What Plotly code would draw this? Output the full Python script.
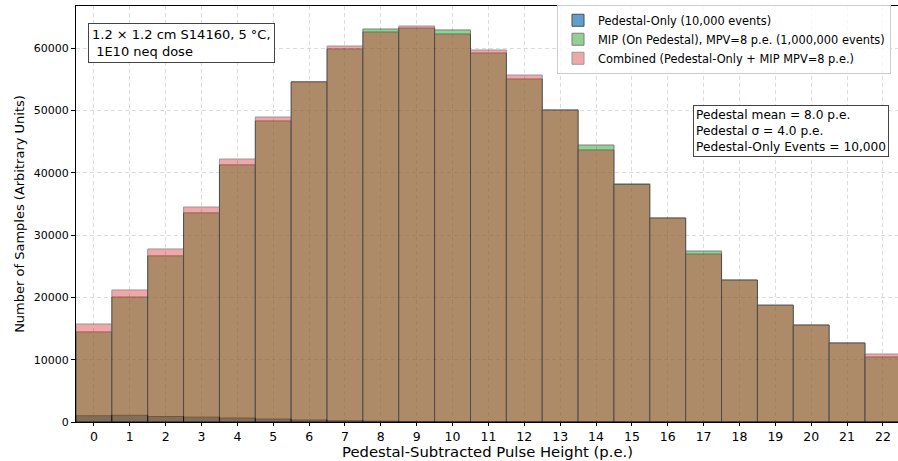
import plotly.graph_objects as go

bins = list(range(23))
pedestal_only = [1000, 1080, 880, 780, 640, 470, 320, 200, 130, 80, 40, 20, 10, 5, 2, 1, 0, 0, 0, 0, 0, 0, 0]
mip_on_pedestal = [14450, 20050, 26650, 33550, 41250, 48300, 54550, 59850, 63050, 63200, 62900, 59200, 55030,
                   50060, 44440, 38200, 32730, 27430, 22780, 18750, 15560, 12680, 10430]
combined = [15720, 21180, 27760, 34490, 42190, 48930, 54600, 60320, 62570, 63530, 62250, 59680, 55670,
            50060, 43640, 38100, 32730, 26950, 22780, 18750, 15560, 12680, 10910]
x_ticks = list(range(23))
y_ticks = [0, 10000, 20000, 30000, 40000, 50000, 60000]

FONT = "DejaVu Sans"
fig = go.Figure()
series = [
    ("Pedestal-Only (10,000 events)", pedestal_only, "#1f77b4", 0.7),
    ("MIP (On Pedestal), MPV=8 p.e. (1,000,000 events)", mip_on_pedestal, "#2ca02c", 0.5),
    ("Combined (Pedestal-Only + MIP MPV=8 p.e.)", combined, "#d62728", 0.4),
]
for name, vals, col, op in series:
    fig.add_trace(go.Bar(x=bins, y=vals, name=name, width=1.0,
                         marker=dict(color=col, line=dict(color="black", width=1)),
                         opacity=op))

GRID = "rgba(185,185,185,0.5)"
fig.update_layout(
    barmode="overlay",
    width=898, height=461,
    margin=dict(l=76, r=0, t=6, b=39, autoexpand=False),
    plot_bgcolor="white", paper_bgcolor="white",
    font=dict(family=FONT, color="black"),
    showlegend=True,
    legend=dict(x=0.9915, y=1.003, xanchor="right", yanchor="top",
                bgcolor="rgba(255,255,255,0.8)", bordercolor="#cccccc", borderwidth=1,
                font=dict(size=11.4, family=FONT), tracegroupgap=0, itemwidth=30),
)
fig.update_xaxes(range=[-0.5, 22.42], tickvals=x_ticks, ticktext=[str(t) for t in x_ticks],
                 tickfont=dict(size=12.5), ticks="outside", ticklen=3, tickcolor="black",
                 showline=True, linecolor="black", mirror=True, linewidth=1,
                 showgrid=True, gridcolor=GRID, griddash="4px,3px", gridwidth=0.8,
                 zeroline=False, automargin=False)
fig.update_yaxes(range=[0, 66740], tickvals=y_ticks, ticktext=[str(t) for t in y_ticks],
                 tickfont=dict(size=11), ticks="outside", ticklen=4, tickcolor="black",
                 showline=True, linecolor="black", mirror=True, linewidth=1,
                 showgrid=True, gridcolor=GRID, griddash="4px,3px", gridwidth=0.8,
                 zeroline=False, automargin=False,
                 title=dict(text="Number of Samples (Arbitrary Units)", font=dict(size=13), standoff=6))

fig.add_annotation(xref="paper", yref="paper", x=0.5, y=-0.0937, xanchor="center", yanchor="bottom",
                   text="Pedestal-Subtracted Pulse Height (p.e.)", showarrow=False,
                   font=dict(size=14.8, family=FONT), borderpad=0)
fig.add_annotation(xref="paper", yref="paper", x=0.0146, y=0.96, xanchor="left", yanchor="top",
                   text="1.2 × 1.2 cm S14160, 5 °C,<br> 1E10 neq dose", align="left", showarrow=False,
                   font=dict(size=13, family=FONT), bgcolor="white", bordercolor="#444444",
                   borderwidth=1, borderpad=3)
fig.add_annotation(xref="paper", yref="paper", x=0.9895, y=0.762, xanchor="right", yanchor="top",
                   text="Pedestal mean = 8.0 p.e.<br>Pedestal σ = 4.0 p.e.<br>Pedestal-Only Events = 10,000",
                   align="left", showarrow=False,
                   font=dict(size=12.2, family=FONT), bgcolor="white", bordercolor="#444444",
                   borderwidth=1, borderpad=2)

fig.write_html("out.html", config={"displayModeBar": False},
               post_script="document.body.style.margin='0';document.body.style.overflow='hidden';")
